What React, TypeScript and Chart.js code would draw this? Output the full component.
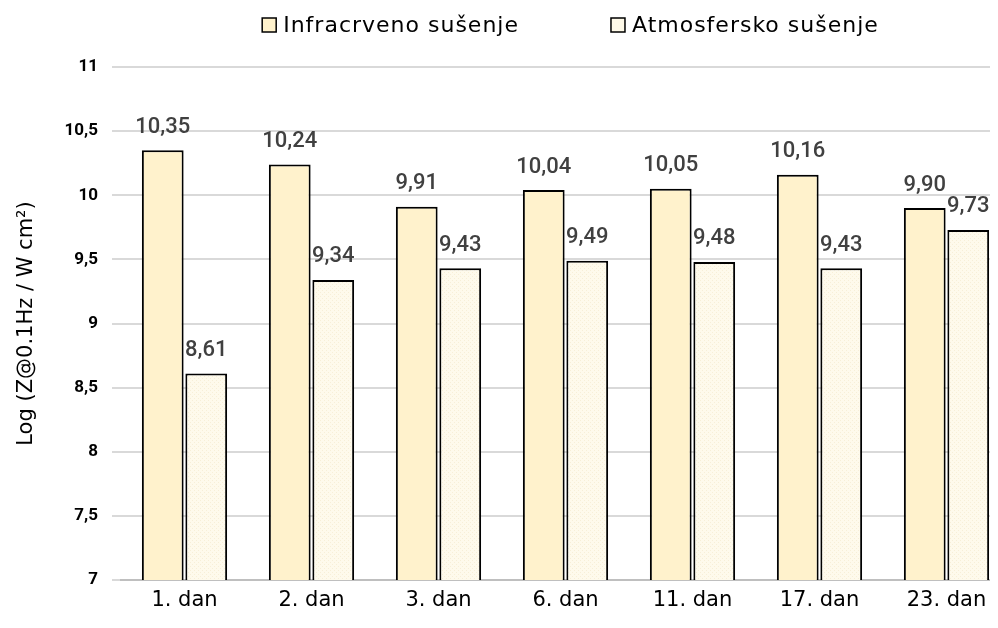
import React, { useEffect, useRef } from "react";
import { Chart, registerables } from "chart.js";

Chart.register(...registerables);

const categories = ["1. dan", "2. dan", "3. dan", "6. dan", "11. dan", "17. dan", "23. dan"];
const seriesNames = ["Infracrveno sušenje", "Atmosfersko sušenje"];
const infracrveno = [10.35, 10.24, 9.91, 10.04, 10.05, 10.16, 9.9];
const atmosfersko = [8.61, 9.34, 9.43, 9.49, 9.48, 9.43, 9.73];
const yMin = 7;
const yMax = 11;
const yStep = 0.5;
const yTitle = "Log (Z@0.1Hz / W cm²)";
const colors = ["#FFF2CC", "#FEF9E8"];

const fmt = (v: number, d: number) => v.toFixed(d).replace(".", ",");

function makePattern(): CanvasPattern | string {
  const c = document.createElement("canvas");
  c.width = 4;
  c.height = 4;
  const ctx = c.getContext("2d");
  if (!ctx) return colors[1];
  ctx.fillStyle = "#FEFAEC";
  ctx.fillRect(0, 0, 4, 4);
  ctx.fillStyle = "#F7EFD8";
  ctx.fillRect(0, 0, 1, 1);
  ctx.fillRect(2, 2, 1, 1);
  const p = ctx.createPattern(c, "repeat");
  return p || colors[1];
}

const labelPlugin = {
  id: "valueLabels",
  afterDatasetsDraw(chart: any) {
    const ctx = chart.ctx;
    ctx.save();
    ctx.font = "500 22px Roboto";
    ctx.fillStyle = "#404040";
    ctx.textAlign = "center";
    ctx.textBaseline = "bottom";
    chart.data.datasets.forEach((ds: any, i: number) => {
      const meta = chart.getDatasetMeta(i);
      meta.data.forEach((el: any, j: number) => {
        ctx.fillText(fmt(ds.data[j], 2), el.x, el.y - 12);
      });
    });
    ctx.restore();
  },
};

const legendPlugin = {
  id: "customLegend",
  afterDraw(chart: any) {
    const ctx = chart.ctx;
    ctx.save();
    ctx.font = "22px 'DejaVu Sans'";
    (ctx as any).letterSpacing = "1px";
    ctx.textBaseline = "middle";
    ctx.textAlign = "left";
    const box = 14;
    const gapBoxText = 7;
    const gapItems = 92;
    const widths = seriesNames.map((t) => ctx.measureText(t).width);
    const total = widths.reduce((a, w) => a + box + gapBoxText + w, 0) + gapItems;
    const cx = (chart.chartArea.left + chart.chartArea.right) / 2 + 5;
    let x = cx - total / 2;
    const y = 17;
    seriesNames.forEach((t, i) => {
      ctx.fillStyle = colors[i];
      ctx.fillRect(x, y - box / 2, box, box);
      ctx.strokeStyle = "#000000";
      ctx.lineWidth = 1.5;
      ctx.strokeRect(x, y - box / 2, box, box);
      ctx.fillStyle = "#000000";
      ctx.fillText(t, x + box + gapBoxText, y + 1);
      x += box + gapBoxText + widths[i] + gapItems;
    });
    ctx.restore();
  },
};

export default function App() {
  const ref = useRef<HTMLCanvasElement>(null);
  useEffect(() => {
    if (!ref.current) return;
    const chart = new Chart(ref.current, {
      type: "bar",
      data: {
        labels: categories,
        datasets: [
          {
            label: seriesNames[0],
            data: infracrveno,
            backgroundColor: colors[0],
            borderColor: "#000000",
            borderWidth: 2,
            categoryPercentage: 0.685,
            barPercentage: 0.96,
          },
          {
            label: seriesNames[1],
            data: atmosfersko,
            backgroundColor: makePattern() as any,
            borderColor: "#000000",
            borderWidth: 2,
            categoryPercentage: 0.685,
            barPercentage: 0.96,
          },
        ],
      },
      options: {
        animation: false,
        responsive: false,
        maintainAspectRatio: false,
        layout: { padding: { left: 0, right: 8, top: 59, bottom: 0 } },
        plugins: {
          tooltip: { enabled: false },
          legend: { display: false },
        },
        scales: {
          x: {
            grid: { display: false, drawTicks: false },
            border: { display: true, color: "#BFBFBF", width: 2 },
            ticks: {
              color: "#000000",
              font: { family: "DejaVu Sans", size: 21 },
              padding: 8,
            },
            afterFit: (s: any) => {
              s.height = 48;
            },
          },
          y: {
            min: yMin,
            max: yMax,
            grid: { color: "#D9D9D9", lineWidth: 2, tickLength: 9, drawTicks: true },
            border: { display: false },
            ticks: {
              stepSize: yStep,
              color: "#000000",
              font: { family: "Roboto", size: 17, weight: "bold" },
              padding: 14,
              callback: (v: any) => (Number.isInteger(v) ? String(v) : fmt(Number(v), 1)),
            },
            title: {
              display: true,
              text: yTitle,
              color: "#000000",
              font: { family: "DejaVu Sans", size: 21 },
              padding: { top: 6, bottom: 0 },
            },
            afterFit: (s: any) => {
              s.width = 113;
            },
          },
        },
      },
      plugins: [labelPlugin, legendPlugin],
    });
    return () => chart.destroy();
  }, []);
  return (
    <div style={{ width: 990, height: 620, overflow: "hidden" }}>
      <canvas ref={ref} width={1010} height={620} style={{ display: "block" }} />
    </div>
  );
}
